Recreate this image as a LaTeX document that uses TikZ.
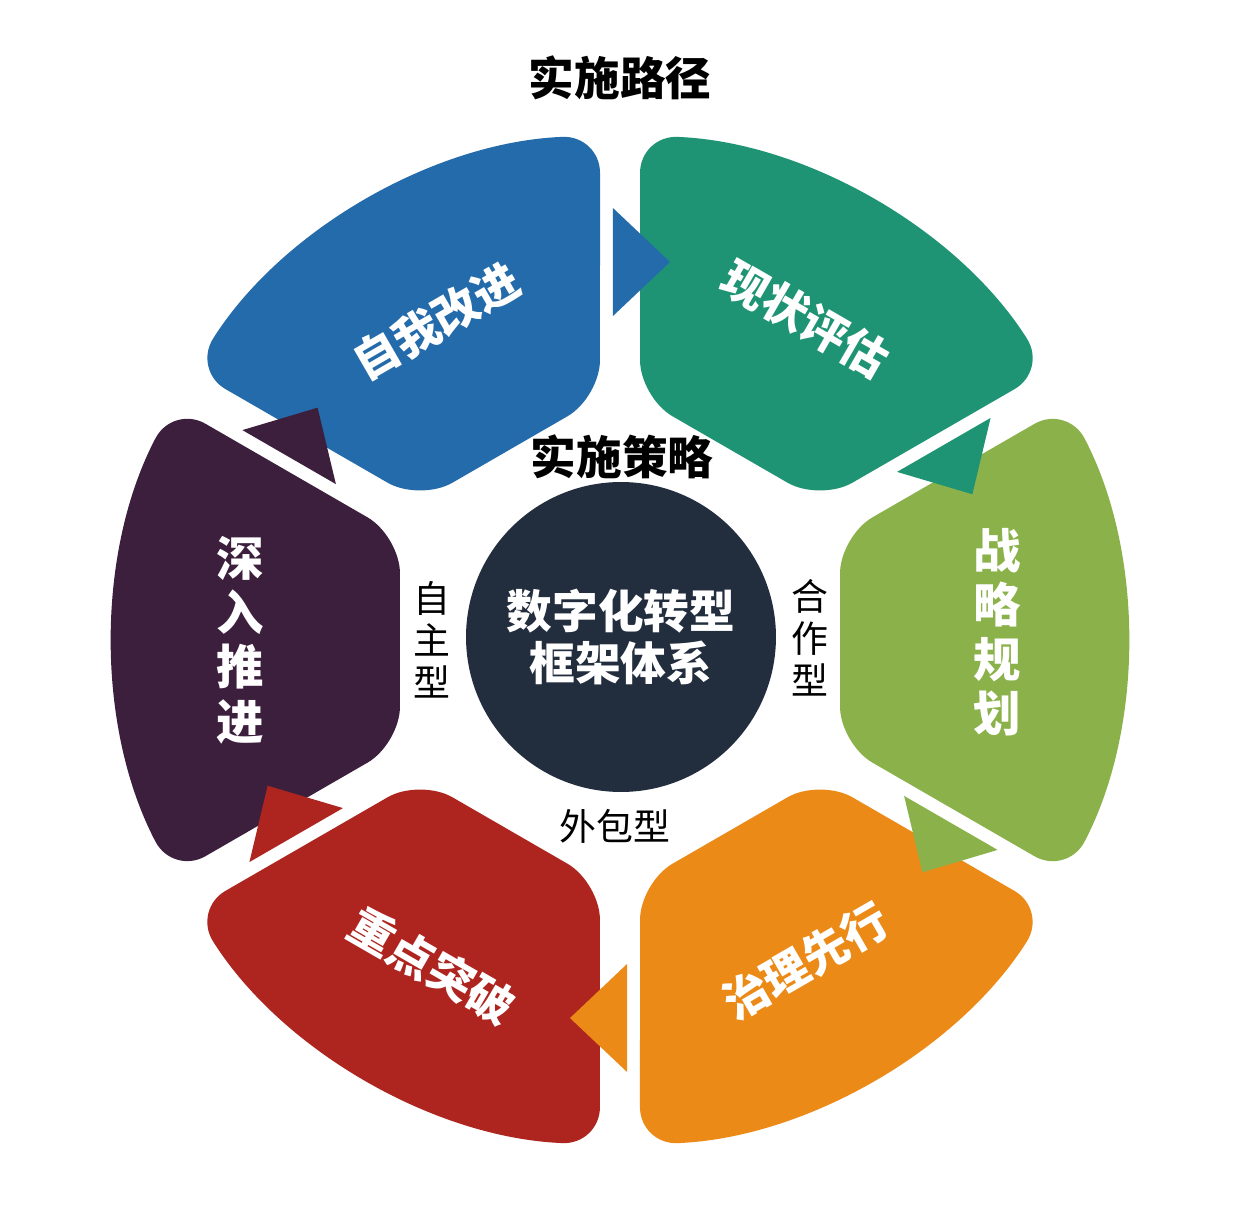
\documentclass[tikz,border=0pt]{standalone}
\usepackage{fontspec}
\setmainfont{Noto Sans CJK SC}
\usetikzlibrary{positioning}

\definecolor{selfblue}{HTML}{246BAB}
\definecolor{statusteal}{HTML}{1E9474}
\definecolor{planolive}{HTML}{8BB24A}
\definecolor{govorange}{HTML}{EC8A17}
\definecolor{keyred}{HTML}{AE2520}
\definecolor{deepplum}{HTML}{3B1F3C}
\definecolor{hubnavy}{HTML}{222D3E}

\begin{document}
\begin{tikzpicture}[
    x=0.02cm, y=0.02cm,
    seg/.pic={\fill[pic actions, rounded corners=0.75cm]
                (220,0) -- (220,-103.9) -- (447.0,-235.0)
                arc[start angle=-27.73, end angle=27.73, radius=505]
                -- (220,103.9) -- cycle;},
    tip/.pic={\fill[pic actions]
                (284.1,-155.9) -- (377.6,-209.9) -- (302.4,-232.3) -- cycle;},
    title/.style={font=\fontsize{26}{30}\selectfont\bfseries},
    hub/.style={circle, fill=hubnavy, minimum size=6.2cm, inner sep=0pt,
                text=white, align=center, font=\fontsize{26}{30}\selectfont\bfseries},
    mode/.style={align=center, font=\fontsize{21}{24}\selectfont},
    stage/.style={text=white, align=center, font=\fontsize{26}{30}\selectfont\bfseries},
    stagecol/.style={stage, font=\fontsize{27}{31}\selectfont\bfseries}
]

\path[use as bounding box, fill=white] (-620,-590) rectangle (620,640);

% Ring segments
\pic[fill=selfblue,   rotate=120]  (selfseg)   at (0,0) {seg};
\pic[fill=statusteal, rotate=60]   (statusseg) at (0,0) {seg};
\pic[fill=planolive,  rotate=0]    (planseg)   at (0,0) {seg};
\pic[fill=govorange,  rotate=-60]  (govseg)    at (0,0) {seg};
\pic[fill=keyred,     rotate=-120] (keyseg)    at (0,0) {seg};
\pic[fill=deepplum,   rotate=180]  (deepseg)   at (0,0) {seg};

% Arrow heads, clockwise
\pic[fill=selfblue,   rotate=120]  (selftip)   at (0,0) {tip};
\pic[fill=statusteal, rotate=60]   (statustip) at (0,0) {tip};
\pic[fill=planolive,  rotate=0]    (plantip)   at (0,0) {tip};
\pic[fill=govorange,  rotate=-60]  (govtip)    at (0,0) {tip};
\pic[fill=keyred,     rotate=-120] (keytip)    at (0,0) {tip};
\pic[fill=deepplum,   rotate=180]  (deeptip)   at (0,0) {tip};

% Stage labels
\node[stage, rotate=30]  (self)   at (120:368)  {自我改进};
\node[stage, rotate=-30] (status) at (60:371)   {现状评估};
\node[stagecol]          (plan)   at (377,8)    {战\\略\\规\\划};
\node[stage, rotate=30]  (gov)    at (-60:371)  {治理先行};
\node[stage, rotate=-30] (key)    at (-120:376) {重点突破};
\node[stagecol]          (deep)   at (-380,0)   {深\\入\\推\\进};

% Hub and titles
\node[hub]   (hub)      at (1,3)    {数字化转型\\框架体系};
\node[title] (path)     at (0,562)  {实施路径};
\node[title] (strategy) at (2,183)  {实施策略};

% Modes
\node[mode] (own)     at (-188,0)  {自\\主\\型};
\node[mode] (partner) at (190,2)   {合\\作\\型};
\node[mode] (outsrc)  at (-5,-186) {外包型};

\end{tikzpicture}
\end{document}
